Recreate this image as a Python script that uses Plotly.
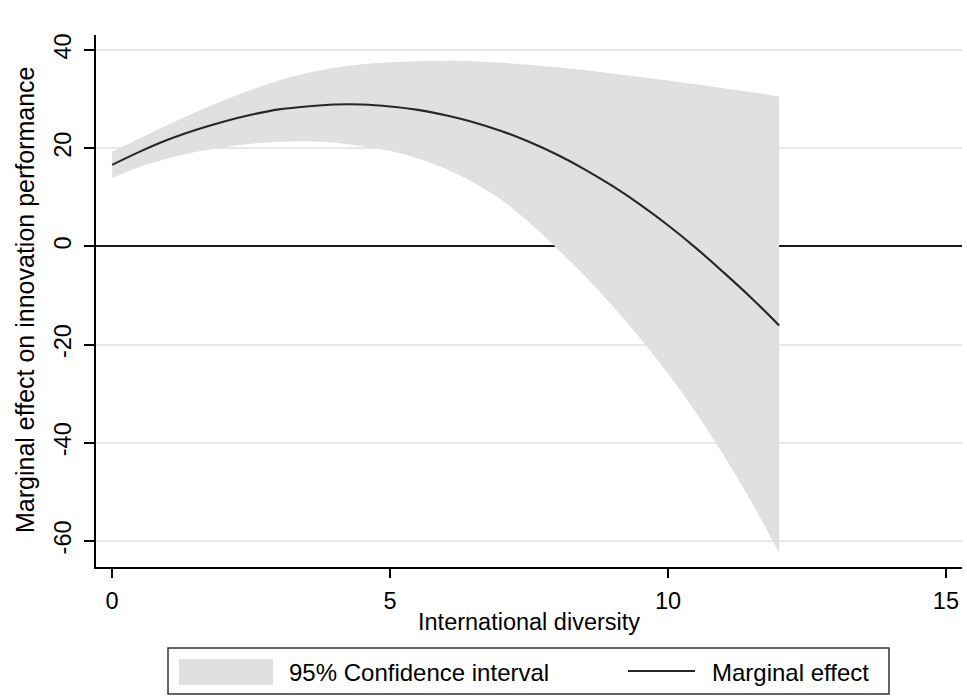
import plotly.graph_objects as go

# Data
diversity = [0, 0.5, 1, 1.5, 2, 2.5, 3, 3.5, 4, 4.5, 5, 5.5, 6, 6.5, 7, 7.5, 8, 8.5, 9, 9.5, 10, 10.5, 11, 11.5, 12]
marginal_effect = [16.6, 19.3, 21.7, 23.7, 25.4, 26.8, 27.9, 28.5, 28.9, 28.9, 28.5, 27.8, 26.7, 25.3, 23.5, 21.3, 18.7, 15.7, 12.3, 8.5, 4.3, -0.3, -5.3, -10.5, -16.1]
ci_upper = [19.2, 22.0, 24.7, 27.3, 29.7, 31.9, 33.8, 35.3, 36.4, 37.1, 37.5, 37.7, 37.8, 37.7, 37.4, 37.0, 36.5, 35.9, 35.2, 34.5, 33.8, 33.0, 32.2, 31.4, 30.5]
ci_lower = [13.9, 16.2, 17.9, 19.2, 20.2, 20.9, 21.3, 21.4, 21.1, 20.4, 19.4, 17.9, 15.8, 13.0, 9.5, 4.9, -0.4, -6.0, -12.1, -18.7, -25.9, -33.8, -42.5, -52.0, -62.4]

x_ticks = [0, 5, 10, 15]
y_ticks = [40, 20, 0, -20, -40, -60]

legend_labels = ["95% Confidence interval", "Marginal effect"]
x_title = "International diversity"
y_title = "Marginal effect on innovation performance"

W, H = 967, 696
L, R, T, B = 96, 5, 35, 129
PW, PH = W - L - R, H - T - B

def px(xp):
    return (xp - L) / PW

def py(yp):
    return (H - B - yp) / PH

FONT = "Liberation Sans, Arial, sans-serif"
BAND = "#e0e0e0"
LINE = "#262626"

fig = go.Figure()
fig.add_trace(go.Scatter(
    x=diversity, y=ci_upper, mode="lines", line_shape="spline",
    line=dict(width=0, color=BAND), hoverinfo="skip", showlegend=False,
))
fig.add_trace(go.Scatter(
    x=diversity, y=ci_lower, mode="lines", line_shape="spline",
    fill="tonexty", fillcolor=BAND,
    line=dict(width=0, color=BAND), hoverinfo="skip", showlegend=False,
))
fig.add_trace(go.Scatter(
    x=diversity, y=marginal_effect, mode="lines", line_shape="spline",
    line=dict(color=LINE, width=2.1), showlegend=False,
))

fig.update_layout(
    width=W, height=H,
    margin=dict(l=L, r=R, t=T, b=B, pad=0),
    paper_bgcolor="white", plot_bgcolor="white",
    font=dict(family=FONT, color="black"),
    showlegend=False,
    xaxis=dict(
        range=[-0.29, 15.29], tickvals=x_ticks, ticktext=[str(v) for v in x_ticks],
        showgrid=False, zeroline=False,
        showline=True, linecolor="black", linewidth=1.5,
        ticks="outside", ticklen=9, tickwidth=1.5, tickcolor="black",
        tickfont=dict(size=23.5, family=FONT, color="black"),
        ticklabelstandoff=3,
    ),
    yaxis=dict(
        range=[-65.3, 43.05], tickvals=y_ticks, ticktext=[str(v) for v in y_ticks],
        showgrid=True, gridcolor="#e8e8e8", gridwidth=1.5,
        zeroline=True, zerolinecolor="#1a1a1a", zerolinewidth=1.5,
        showline=True, linecolor="black", linewidth=1.5,
        ticks="outside", ticklen=10, tickwidth=1.5, tickcolor="black",
        tickangle=-90,
        tickfont=dict(size=23.5, family=FONT, color="black"),
        ticklabelstandoff=4,
    ),
)

annotations = [
    dict(text=x_title, x=px(529), y=py(622), xref="paper", yref="paper",
         xanchor="center", yanchor="middle", showarrow=False,
         font=dict(size=23.5, family=FONT, color="black")),
    dict(text=y_title, x=px(25), y=py(300), xref="paper", yref="paper",
         xanchor="center", yanchor="middle", showarrow=False, textangle=-90,
         font=dict(size=25, family=FONT, color="black")),
    dict(text=legend_labels[0], x=px(287), y=py(672), xref="paper", yref="paper",
         xanchor="left", yanchor="middle", showarrow=False,
         font=dict(size=24, family=FONT, color="black")),
    dict(text=legend_labels[1], x=px(710), y=py(672), xref="paper", yref="paper",
         xanchor="left", yanchor="middle", showarrow=False,
         font=dict(size=24, family=FONT, color="black")),
]
fig.update_layout(annotations=annotations)

shapes = [
    dict(type="rect", xref="paper", yref="paper",
         x0=px(168), x1=px(889), y0=py(694), y1=py(648),
         line=dict(color="#333333", width=1.5), fillcolor="white", layer="above"),
    dict(type="rect", xref="paper", yref="paper",
         x0=px(179), x1=px(273), y0=py(685), y1=py(659),
         line=dict(width=0), fillcolor=BAND, layer="above"),
    dict(type="line", xref="paper", yref="paper",
         x0=px(628), x1=px(695), y0=py(671), y1=py(671),
         line=dict(color=LINE, width=2.1), layer="above"),
]
fig.update_layout(shapes=shapes)

fig.write_html("out.html", config={"displayModeBar": False},
               post_script="document.body.style.margin='0';")
